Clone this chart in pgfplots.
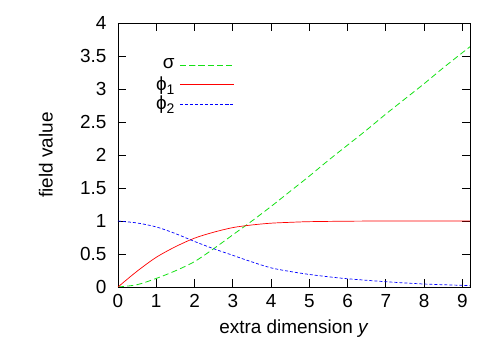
\documentclass[border=0pt]{standalone}
\usepackage{fontspec}
\setmainfont{Liberation Sans}
\usepackage{pgfplots}
\pgfplotsset{compat=1.18}

\definecolor{sigcol}{RGB}{20,225,20}
\definecolor{phaone}{RGB}{255,0,0}
\definecolor{phatwo}{RGB}{0,0,255}
\newcommand{\sub}[1]{\raisebox{-0.4ex}{\fontsize{14}{14}\selectfont #1}}

\begin{document}
\fontsize{19}{22}\selectfont
\begin{tikzpicture}
\begin{axis}[
  scale only axis,
  width=352bp, height=264bp,
  xmin=0, xmax=9.2, ymin=0, ymax=4,
  xtick={0,1,...,9},
  ytick={0,0.5,...,4},
  tick align=inside,
  major tick length=8bp,
  tick style={black, line width=0.8bp},
  axis line style={line width=0.8bp},
  /pgf/number format/assume math mode=true,
  yticklabel style={/pgf/number format/fixed, xshift=-5bp},
  xticklabel style={yshift=-1bp},
  xlabel={extra dimension \textit{y}},
  ylabel={field value},
  xlabel style={yshift=1bp},
  ylabel style={at={(axis description cs:-0.205,0.5)}, anchor=center},
  legend cell align=right,
  legend plot pos=right,
  legend style={draw=none, fill=none, at={(0.332,0.878)}, anchor=north east,
    row sep=0pt, inner sep=0pt, column sep=5bp,
    nodes={inner sep=0bp, minimum height=19.5bp}},
  legend image post style={xscale=3.2},
]
\addplot[color=sigcol, line width=0.8bp, dash pattern=on 6bp off 3.3bp, smooth] coordinates {
(0,0) (0.5,0.035) (1,0.13) (1.5,0.245) (2,0.385) (2.5,0.58) (3,0.79) (3.5,1.0)
(4,1.22) (4.5,1.45) (5,1.68) (5.5,1.92) (6,2.15) (6.5,2.38) (7,2.62) (7.5,2.85)
(8,3.08) (8.5,3.32) (9,3.55) (9.2,3.64)};
\addlegendentry{σ}
\addplot[color=phaone, line width=0.7bp, smooth] coordinates {
(0,0) (0.5,0.24) (1,0.45) (1.5,0.61) (2,0.74) (2.5,0.83) (3,0.9) (3.5,0.94)
(4,0.967) (4.5,0.98) (5,0.99) (6,0.997) (7,1.0) (8,1.0) (9.2,1.0)};
\addlegendentry{ϕ\sub{1}}
\addplot[color=phatwo, line width=0.7bp, dash pattern=on 3bp off 2bp, smooth] coordinates {
(0,1) (0.5,0.97) (1,0.91) (1.5,0.81) (2,0.69) (2.5,0.58) (3,0.48) (3.5,0.38)
(4,0.29) (4.5,0.235) (5,0.19) (5.5,0.155) (6,0.125) (7,0.08) (8,0.045) (9,0.025) (9.2,0.02)};
\addlegendentry{ϕ\sub{2}}
\end{axis}
\useasboundingbox (-118bp,-62bp) rectangle (380bp,287bp);
\end{tikzpicture}
\end{document}
